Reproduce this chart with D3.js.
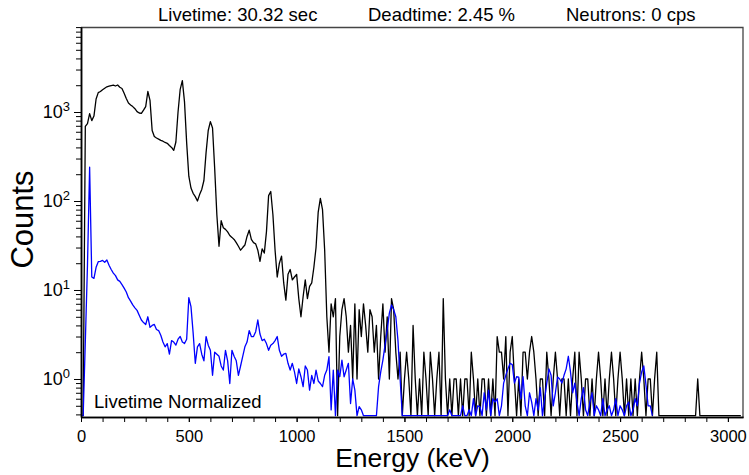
<!DOCTYPE html>
<html>
<head>
<meta charset="utf-8">
<script src="https://cdn.jsdelivr.net/npm/d3@7"></script>
<style>
    body { margin: 0; background: #fff; }
    svg { display: block; font-family: "Liberation Sans", Arial, sans-serif; }
</style>
</head>
<body>
<div id="chart"></div>
<script>
// Spectrum bins are 10 keV wide, first bin starts at 0 keV
const binWidth = 10;

// Measured spectrum (raw counts per bin, black)
const measuredCounts = [
    0, 0, 690, 740, 960, 800, 900, 1400, 1650, 1700,
    1780, 1850, 1920, 1950, 1980, 2000, 1960, 2010, 1900, 1840,
    1620, 1420, 1260, 1200, 1150, 1090, 1010, 975, 965, 1050,
    1150, 1700, 1350, 620, 530, 510, 495, 480, 470, 455,
    445, 420, 400, 370, 460, 1000, 1800, 2250, 1300, 450,
    190, 140, 122, 112, 100, 118, 135, 170, 350, 620,
    780, 660, 230, 70, 31, 60, 50, 48, 45, 41,
    39, 37, 34, 31, 28, 30, 32, 40, 47, 37,
    34, 33, 28, 21, 29, 26, 45, 115, 128, 70,
    28, 14, 20, 24, 12, 7.7, 15, 17, 13, 14,
    15, 8, 5, 8.4, 13, 8, 11, 12, 18, 30,
    75, 107, 80, 28, 5, 2, 7, 5, 8, 0,
    3, 6, 8, 5, 2, 4, 1, 7, 1, 6,
    3, 7, 4, 2, 6, 5, 2, 4, 1, 3,
    7, 2, 5, 1, 8, 6, 2, 1, 2, 0,
    1, 2, 1, 0, 4, 1, 0, 1, 0, 2,
    1, 0, 2, 1, 0, 1, 2, 0, 8, 1,
    0, 1, 0, 1, 1, 0, 1, 0, 1, 1,
    0, 2, 1, 0, 1, 0, 1, 1, 0, 1,
    0, 1, 0, 3, 2, 2, 1, 3, 0, 2,
    3, 1, 0, 1, 0, 2, 2, 1, 2, 3,
    2, 1, 0, 1, 1, 0, 2, 1, 0, 1,
    2, 1, 0, 1, 1, 0, 1, 0, 1, 2,
    0, 2, 1, 0, 1, 1, 0, 1, 0, 1,
    2, 1, 0, 1, 0, 1, 2, 1, 0, 1,
    2, 1, 0, 1, 0, 1, 0, 1, 0, 1,
    2, 1, 0, 1, 1, 0, 1, 2, 0, 0,
    0, 0, 0, 0, 0, 0, 0, 0, 0, 0,
    0, 0, 0, 0, 0, 0, 1, 0, 0, 0,
    0, 0, 0, 0, 0, 0, 0, 0, 0, 0,
    0, 0, 0, 0, 0, 0, 0
];

// Livetime normalized background (blue)
const normalizedCounts = [
    0, 0, 2.6, 19, 240, 14, 13.5, 18, 20.8, 21,
    21.5, 20.5, 21.7, 19, 17, 15.5, 14.5, 13, 12.5, 11.5,
    10.5, 9.5, 8.2, 7.5, 6.8, 6.3, 5.9, 5.2, 4.6, 4.3,
    4.1, 5.0, 3.8, 4.0, 4.1, 3.6, 3.5, 3.1, 2.6, 2.3,
    2.5, 1.9, 2.7, 2.6, 2.4, 2.8, 3.0, 2.6, 2.5, 2.8,
    8.2, 6.5, 3.3, 1.5, 2.3, 2.5, 1.9, 1.6, 3.0, 2.4,
    2.1, 1.1, 2.0, 1.9, 1.8, 1.4, 1.26, 2.1, 1.6, 0.89,
    2.1, 1.8, 1.6, 1.1, 1.4, 1.8, 2.3, 2.6, 3.5, 3.0,
    3.0, 3.4, 4.6, 3.2, 2.7, 2.8, 2.5, 2.1, 2.4, 2.5,
    2.7, 3.0, 2.1, 1.8, 1.9, 1.94, 1.5, 1.26, 1.5, 1.2,
    0.89, 1.3, 1.06, 0.82, 1.4, 1.26, 0.75, 1.1, 0.89, 1.26,
    0.95, 0.89, 0.82, 1.1, 1.26, 1.78, 0.45, 1.26, 0, 1.26,
    1.06, 1.63, 1.06, 1.26, 1.5, 0.53, 1.0, 0.75, 0, 0.49,
    0.45, 0, 0, 0, 0, 0, 0, 0, 0.82, 1.2,
    1.63, 2.4, 3.55, 5.5, 6.8, 6.0, 5.0, 2.7, 1.0, 0,
    0, 0, 0, 0, 0, 0, 0, 0, 0, 0,
    0, 0, 0, 0, 0, 0, 0, 0, 0, 0,
    0, 0.45, 0, 0, 0, 0, 0, 0.5, 0, 0,
    0.45, 0, 0.6, 0, 0.5, 0.49, 0, 0.7, 0.45, 0.75,
    0, 0.6, 0.55, 0.6, 0, 0.5, 0.9, 1.1, 1.3, 1.5,
    1.45, 0.9, 1.06, 1.05, 0.6, 1.06, 0.5, 0, 0.7, 0.55,
    0, 0.6, 0.45, 0.8, 0, 0.6, 0.9, 1.3, 1.1, 0.5,
    0.7, 1.05, 1.0, 0.9, 1.1, 1.3, 1.8, 1.2, 0.7, 0.9,
    0.55, 0, 0.6, 0.8, 0.45, 0, 0.55, 0.7, 0, 0.5,
    0.45, 0, 0.6, 0, 0.45, 0.5, 0, 0.45, 0.6, 0,
    0.5, 0.45, 0, 0.5, 0.55, 0, 0.45, 0.6, 0.5, 0.9,
    1.2, 1.4, 0.86, 0.5, 0.5, 0
];

// Header and axis labels
const headerLabels = ["Livetime: 30.32 sec", "Deadtime: 2.45 %", "Neutrons: 0 cps"];
const energyTicks = [0, 500, 1000, 1500, 2000, 2500, 3000];
const countDecades = [1, 10, 100, 1000];


class SpectrumChart {

    constructor(opts) {
        this.element = opts.element || "chart";
        this.width = opts.width || 749;
        this.height = opts.height || 475;
        this.margin = opts.margin || { top: 27, right: 6, bottom: 58, left: 81 };

        this.innerWidth = this.width - (this.margin.left + this.margin.right);
        this.innerHeight = this.height - (this.margin.top + this.margin.bottom);

        // log axis range, zero counts are parked just above the bottom
        this.yDomain = [0.374, 9020];
        this.floorValue = 0.387;

        this.svg = d3.select(`#${this.element}`)
            .append("svg")
            .attr("width", this.width)
            .attr("height", this.height)
            .style("background", "#fff");

        this.draw();
    }

    draw() {
        this.plot = this.svg.append("g")
            .attr("transform", `translate(${this.margin.left},${this.margin.top})`);

        this.plot.append("clipPath").attr("id", "plot-clip")
            .append("rect")
            .attr("width", this.innerWidth)
            .attr("height", this.innerHeight);

        this.createScales();
        this.addFrame();
        this.addLines();
        this.addAxes();
        this.addTitles();
    }

    createScales() {
        this.xScale = d3.scaleLinear()
            .domain([0, 3070])
            .range([0, this.innerWidth]);

        this.yScale = d3.scaleLog()
            .domain(this.yDomain)
            .range([this.innerHeight, 0]);
    }

    addFrame() {
        // thin top and right borders
        this.plot.append("path")
            .attr("d", `M0,0.5H${this.innerWidth}V${this.innerHeight}`)
            .attr("fill", "none")
            .attr("stroke", "#444")
            .attr("stroke-width", 1.3);
    }

    addLines() {
        const that = this;
        const line = d3.line()
            .x((d, i) => that.xScale(i * binWidth))
            .y(d => that.yScale(d > 0 ? d : that.floorValue));

        const g = this.plot.append("g").attr("clip-path", "url(#plot-clip)");

        g.append("path")
            .datum(measuredCounts)
            .attr("fill", "none")
            .attr("stroke", "#000")
            .attr("stroke-width", 1.3)
            .attr("stroke-linejoin", "round")
            .attr("d", line);

        g.append("path")
            .datum(normalizedCounts)
            .attr("fill", "none")
            .attr("stroke", "#0000ff")
            .attr("stroke-width", 1.3)
            .attr("stroke-linejoin", "round")
            .attr("d", line);
    }

    addAxes() {
        // x: labelled every 500 keV, small ticks every 100 keV
        const minorX = d3.range(0, 3001, 100);

        this.plot.append("g")
            .attr("class", "x minor")
            .attr("transform", `translate(0,${this.innerHeight})`)
            .call(d3.axisBottom(this.xScale).tickValues(minorX).tickSize(5).tickSizeOuter(0).tickFormat(""));

        const xAxis = this.plot.append("g")
            .attr("class", "x axis")
            .attr("transform", `translate(0,${this.innerHeight})`)
            .call(d3.axisBottom(this.xScale)
                .tickValues(energyTicks)
                .tickSize(5)
                .tickSizeOuter(0)
                .tickPadding(8)
                .tickFormat(d3.format("d")));

        xAxis.selectAll("text")
            .attr("font-size", "16.5px")
            .attr("fill", "#000");

        // y: decades with 2..9 minor ticks
        const minorY = [];
        [0.1, 1, 10, 100, 1000].forEach(dec => {
            for (let k = 2; k <= 9; k++) {
                const v = dec * k;
                if (v >= this.yDomain[0] && v <= this.yDomain[1]) minorY.push(v);
            }
        });

        this.plot.append("g")
            .attr("class", "y minor")
            .call(d3.axisLeft(this.yScale).tickValues(minorY).tickSize(5).tickSizeOuter(0).tickFormat(""));

        const yAxis = this.plot.append("g")
            .attr("class", "y axis")
            .call(d3.axisLeft(this.yScale)
                .tickValues(countDecades)
                .tickSize(7)
                .tickSizeOuter(0)
                .tickPadding(4));

        yAxis.selectAll(".tick text").each(function(d) {
            const t = d3.select(this).text("")
                .attr("fill", "#000")
                .attr("font-size", "18px");
            t.append("tspan").text("10");
            t.append("tspan")
                .attr("dy", "-0.55em")
                .attr("font-size", "13px")
                .text(Math.round(Math.log10(d)));
        });

        this.plot.selectAll(".domain")
            .attr("stroke", "#000")
            .attr("stroke-width", 1.5);
        this.plot.selectAll(".tick line")
            .attr("stroke", "#000");
    }

    addTitles() {
        const headerX = [158, 368, 566];
        this.svg.selectAll(".header")
            .data(headerLabels)
            .enter().append("text")
            .attr("class", "header")
            .attr("x", (d, i) => headerX[i])
            .attr("y", 21)
            .attr("font-size", "18.5px")
            .text(d => d);

        this.svg.append("text")
            .attr("x", 94)
            .attr("y", 408)
            .attr("font-size", "18.5px")
            .text("Livetime Normalized");

        this.svg.append("text")
            .attr("x", 412.5)
            .attr("y", 467)
            .attr("text-anchor", "middle")
            .attr("font-size", "26.5px")
            .text("Energy (keV)");

        this.svg.append("text")
            .attr("transform", "translate(33,219.5) rotate(-90)")
            .attr("text-anchor", "middle")
            .attr("font-size", "31px")
            .text("Counts");
    }
}

new SpectrumChart({ element: "chart" });
</script>
</body>
</html>
